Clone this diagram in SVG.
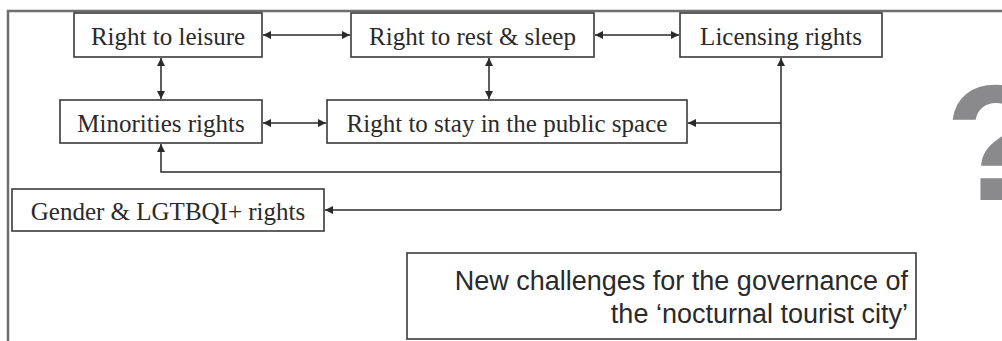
<svg xmlns="http://www.w3.org/2000/svg" width="1002" height="341" viewBox="0 0 1002 341">
<defs>
<style>
.box{fill:#fff;stroke:#3a3a3a;stroke-width:1.6}
.t{font-family:"Liberation Serif","Times New Roman",serif;font-size:25px;fill:#2a2a2a;text-anchor:middle}
.c{fill:none;stroke:#2a2a2a;stroke-width:1.5}
.s{font-family:"Liberation Sans",Arial,sans-serif;font-size:27px;fill:#2a2a2a;text-anchor:end}
</style>
<marker id="a" viewBox="0 0 10 10" refX="10" refY="5" markerWidth="8" markerHeight="8" markerUnits="userSpaceOnUse" orient="auto-start-reverse">
<path d="M0,0 L10,5 L0,10 z" fill="#2a2a2a"/>
</marker>
</defs>
<rect width="1002" height="341" fill="#fff"/>
<path d="M8,341 V11 H1002" fill="none" stroke="#6e6e6e" stroke-width="2.5"/>
<text x="945" y="200" font-family="Liberation Sans,Arial,sans-serif" font-weight="bold" font-size="166" fill="#8a8a8c">?</text>
<g id="connectors">
<line class="c" x1="263" y1="35" x2="350" y2="35" marker-start="url(#a)" marker-end="url(#a)"/>
<line class="c" x1="595" y1="35" x2="679" y2="35" marker-start="url(#a)" marker-end="url(#a)"/>
<line class="c" x1="161" y1="58" x2="161" y2="99" marker-start="url(#a)" marker-end="url(#a)"/>
<line class="c" x1="489" y1="58" x2="489" y2="99" marker-start="url(#a)" marker-end="url(#a)"/>
<line class="c" x1="263" y1="123" x2="326" y2="123" marker-start="url(#a)" marker-end="url(#a)"/>
<path class="c" d="M781,210 V58" marker-end="url(#a)"/>
<path class="c" d="M781,123 H688" marker-end="url(#a)"/>
<path class="c" d="M781,172 H161 V144" marker-end="url(#a)"/>
<path class="c" d="M781,210 H325" marker-end="url(#a)"/>
</g>
<g id="n-leisure"><rect class="box" x="74" y="13" width="188" height="44"/><text class="t" x="168" y="45">Right to leisure</text></g>
<g id="n-rest"><rect class="box" x="351" y="13" width="243" height="44"/><text class="t" x="472.5" y="45">Right to rest &amp; sleep</text></g>
<g id="n-licensing"><rect class="box" x="680" y="13" width="202" height="44"/><text class="t" x="781" y="45">Licensing rights</text></g>
<g id="n-minorities"><rect class="box" x="60" y="100" width="202" height="43"/><text class="t" x="161" y="132">Minorities rights</text></g>
<g id="n-stay"><rect class="box" x="327" y="100" width="360" height="43"/><text class="t" x="507" y="132">Right to stay in the public space</text></g>
<g id="n-gender"><rect class="box" x="12" y="189" width="312" height="42"/><text class="t" x="168" y="220">Gender &amp; LGTBQI+ rights</text></g>
<g id="n-challenges"><rect class="box" x="407" y="253" width="509" height="86"/><text class="s" x="908" y="290">New challenges for the governance of</text><text class="s" x="908" y="323">the ‘nocturnal tourist city’</text></g>
</svg>
